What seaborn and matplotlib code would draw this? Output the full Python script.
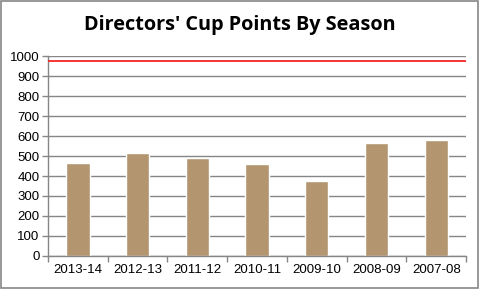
import matplotlib
matplotlib.use("Agg")
import matplotlib.pyplot as plt
import seaborn as sns
import pandas as pd
from matplotlib.patches import Rectangle

seasons = ["2013-14", "2012-13", "2011-12", "2010-11", "2009-10", "2008-09", "2007-08"]
points = [465, 515, 490, 460, 375, 565, 580]
target_points = 977
y_ticks = [0, 100, 200, 300, 400, 500, 600, 700, 800, 900, 1000]
title = "Directors' Cup Points By Season"

sns.set_theme(style="white")
plt.rcParams["font.family"] = ["Liberation Sans", "DejaVu Sans"]

df = pd.DataFrame({"season": seasons, "points": points})

fig = plt.figure(figsize=(4.8, 2.89), dpi=100)
ax = fig.add_axes([0.1, 0.1142, 0.871, 0.692])

ax.set_axisbelow(True)
ax.yaxis.grid(True, color="#868686", linewidth=1)
sns.barplot(data=df, x="season", y="points", color="#B39670", saturation=1,
            width=0.39, ax=ax)
ax.axhline(target_points, color="#F52525", linewidth=1.3, zorder=3)

ax.set_xlim(-0.5, len(seasons) - 0.5)
ax.set_ylim(0, 1000)
ax.set_yticks(y_ticks)
ax.set_yticklabels([str(t) for t in y_ticks], fontsize=9.5, color="black")
ax.set_xticks([i for i in range(len(seasons))])
ax.set_xticklabels(seasons, fontsize=9.5, color="black")
ax.set_xticks([i - 0.5 for i in range(len(seasons) + 1)], minor=True)
ax.tick_params(axis="x", which="major", length=0, pad=6)
ax.tick_params(axis="x", which="minor", length=4, width=1, color="#868686", direction="out", bottom=True)
ax.tick_params(axis="y", which="major", length=4, width=1, color="#868686", direction="out", left=True, pad=2)
ax.set_xlabel("")
ax.set_ylabel("")

for side in ["top", "right"]:
    ax.spines[side].set_visible(False)
for side in ["left", "bottom"]:
    ax.spines[side].set_color("#868686")
    ax.spines[side].set_linewidth(1)

fig.text(0.5, 0.912, title, ha="center", va="center", fontsize=14.3,
         fontweight="bold", color="black", family=["Open Sans", "DejaVu Sans"])

fig.patches.append(Rectangle((0.002, 0.004), 0.994, 0.992, transform=fig.transFigure,
                             fill=False, edgecolor="#868686", linewidth=1.2))

fig.savefig("out.png", dpi=100)
